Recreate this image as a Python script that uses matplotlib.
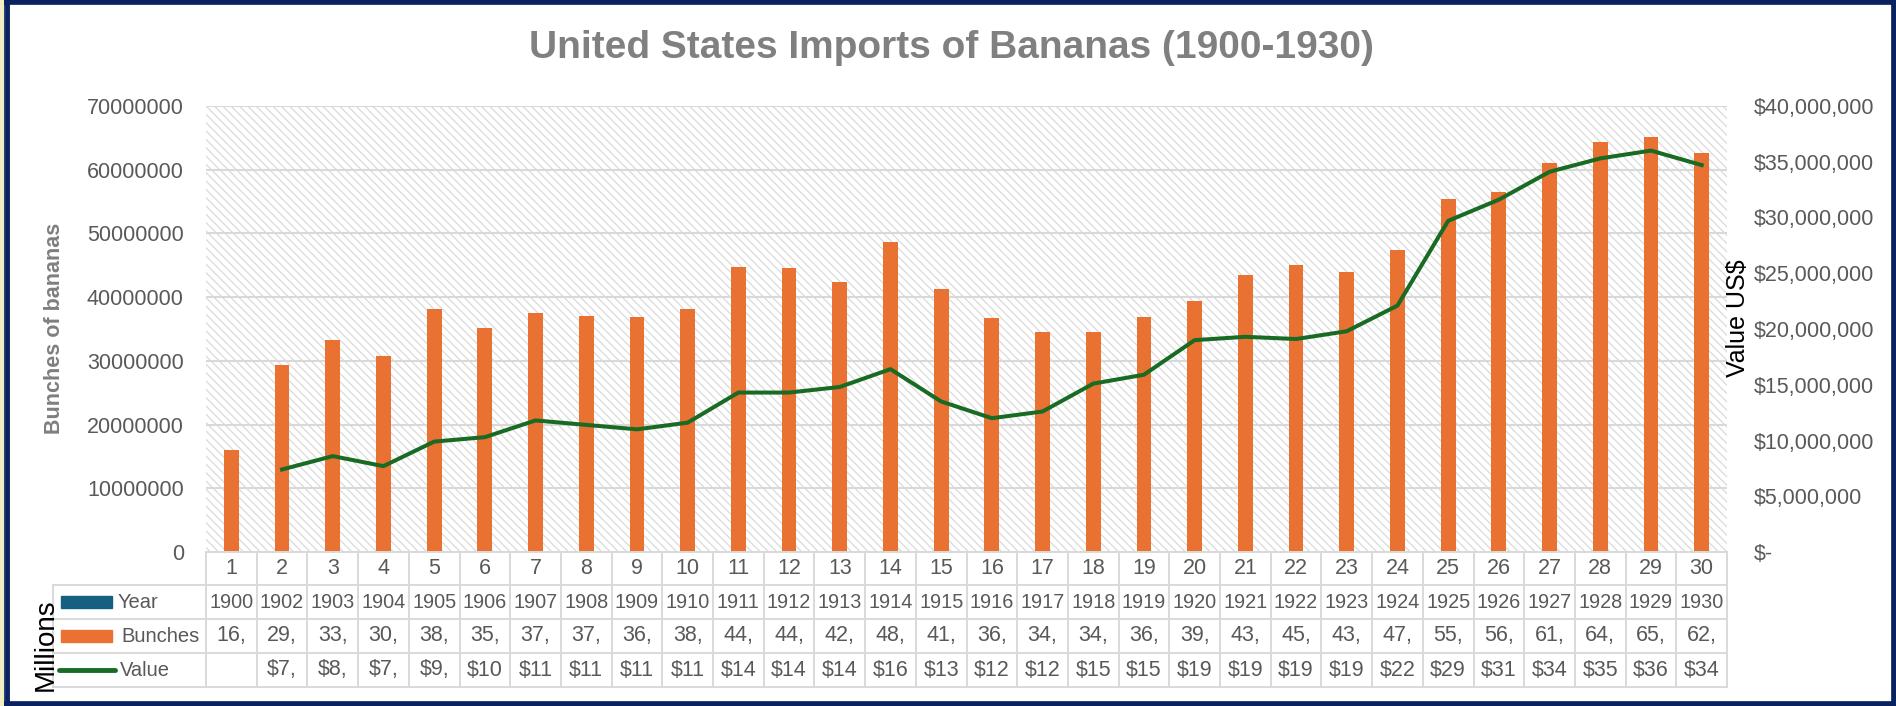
import numpy as np
import matplotlib
matplotlib.use("Agg")
from matplotlib import pyplot as plt
from matplotlib import transforms
from matplotlib.patches import Rectangle
from matplotlib.lines import Line2D
from matplotlib.ticker import FuncFormatter, MultipleLocator

# data
categories = list(range(1, 31))
years = [1900, 1902, 1903, 1904, 1905, 1906, 1907, 1908, 1909, 1910,
         1911, 1912, 1913, 1914, 1915, 1916, 1917, 1918, 1919, 1920,
         1921, 1922, 1923, 1924, 1925, 1926, 1927, 1928, 1929, 1930]
bunches = [16.0, 29.3, 33.2, 30.8, 38.2, 35.1, 37.5, 37.1, 36.9, 38.2,
           44.7, 44.6, 42.4, 48.7, 41.2, 36.8, 34.6, 34.5, 36.9, 39.4,
           43.4, 45.1, 43.9, 47.4, 55.4, 56.5, 61.0, 64.3, 65.1, 62.7]
bunches = [b * 1e6 for b in bunches]
value = [np.nan, 7.4, 8.6, 7.7, 9.9, 10.3, 11.8, 11.4, 11.0, 11.6,
         14.3, 14.3, 14.8, 16.4, 13.5, 12.0, 12.6, 15.1, 15.9, 19.0,
         19.3, 19.1, 19.8, 22.1, 29.7, 31.6, 34.1, 35.3, 36.0, 34.7]
value = [v * 1e6 for v in value]

ORANGE = "#E97132"
GREEN = "#196B24"
BLUE = "#156082"
GRID = "#D9D9D9"
TXT = "#595959"

W, H = 1896, 706
def fx(px):
    return px / W
def fy(py):
    return 1 - py / H

plt.rcParams["font.family"] = ["Liberation Sans", "DejaVu Sans"]
plt.rcParams["hatch.linewidth"] = 0.9
plt.rcParams["hatch.color"] = "#DADADA"
narrow = ["Liberation Sans Narrow", "Liberation Sans", "DejaVu Sans"]

fig = plt.figure(figsize=(W / 100, H / 100), dpi=100)
ax = fig.add_axes([fx(206), fy(552), fx(1727) - fx(206), fy(106) - fy(552)])

# hatched plot background
ax.add_patch(Rectangle((0, 0), 1, 1, transform=ax.transAxes, facecolor="white",
                       edgecolor="#DADADA", hatch="\\\\\\\\", lw=0, zorder=0.1))

x = np.array(categories)
ax.bar(x, bunches, width=0.29, color=ORANGE, zorder=2)
ax.set_xlim(0.5, 30.5)
ax.set_ylim(0, 70000000)
ax.yaxis.set_major_locator(MultipleLocator(10000000))
ax.yaxis.set_major_formatter(FuncFormatter(lambda v, p: f"{v:.0f}"))
ax.grid(axis="y", color=GRID, lw=1.5)
ax.set_axisbelow(True)
ax.set_xticks([])
ax.tick_params(axis="y", length=0, pad=16, labelsize=15.5, labelcolor=TXT)
for s in ax.spines.values():
    s.set_visible(False)

ax2 = ax.twinx()
ax2.plot(x, value, color=GREEN, lw=2.9, zorder=3)
ax2.set_ylim(0, 40000000)
ax2.yaxis.set_major_locator(MultipleLocator(5000000))
ax2.yaxis.set_major_formatter(FuncFormatter(lambda v, p: "$-" if v == 0 else f"${v:,.0f}"))
ax2.tick_params(axis="y", length=0, pad=19, labelsize=15.5, labelcolor=TXT)
for s in ax2.spines.values():
    s.set_visible(False)

# titles and axis labels
fig.text(0.502, fy(48), "United States Imports of Bananas (1900-1930)", ha="center", va="center",
         fontsize=28, fontweight="bold", color="#808080", family=narrow)
fig.text(fx(55), fy(328), "Bunches of bananas", rotation=90, ha="center", va="center",
         fontsize=15.5, fontweight="bold", color="#7F7F7F", family=narrow)
fig.text(fx(1738), fy(318), "Value US$", rotation=90, ha="center", va="center",
         fontsize=18, color="black")
fig.text(fx(46), fy(645), "Millions", rotation=90, ha="center", va="center",
         fontsize=20, color="black")

# data table under the chart
rows = [552, 585, 619, 653, 687]
tr = transforms.blended_transform_factory(ax.transData, fig.transFigure)
for xe in np.arange(0.5, 31, 1.0):
    fig.add_artist(Line2D([xe, xe], [fy(rows[0]), fy(rows[-1])], transform=tr, color=GRID, lw=1.4))
fig.add_artist(Line2D([fx(206), fx(1727)], [fy(rows[0])] * 2, transform=fig.transFigure, color=GRID, lw=1.4))
for r in rows[1:]:
    fig.add_artist(Line2D([fx(53), fx(1727)], [fy(r)] * 2, transform=fig.transFigure, color=GRID, lw=1.4))
fig.add_artist(Line2D([fx(53), fx(53)], [fy(rows[1]), fy(rows[-1])], transform=fig.transFigure, color=GRID, lw=1.4))

def mid(i):
    return fy((rows[i] + rows[i + 1]) / 2)

for c, yr, b, v in zip(categories, years, bunches, value):
    ax.text(c, mid(0), str(c), transform=tr, ha="center", va="center", fontsize=15.5, color=TXT)
    ax.text(c, mid(1), str(yr), transform=tr, ha="center", va="center", fontsize=14.3, color=TXT)
    ax.text(c, mid(2), f"{b:,.0f}"[:3], transform=tr, ha="center", va="center", fontsize=15.5, color=TXT)
    if not np.isnan(v):
        ax.text(c, mid(3), f"${v:,.0f}"[:3], transform=tr, ha="center", va="center", fontsize=15.5, color=TXT)

# legend keys inside the table
fig.add_artist(Rectangle((fx(61), mid(1) - 6 / H), fx(112) - fx(61), 12 / H, transform=fig.transFigure, color=BLUE))
fig.add_artist(Rectangle((fx(61), mid(2) - 6 / H), fx(112) - fx(61), 12 / H, transform=fig.transFigure, color=ORANGE))
fig.add_artist(Line2D([fx(59), fx(115)], [mid(3)] * 2, transform=fig.transFigure, color=GREEN, lw=3.5,
                      solid_capstyle="round"))
fig.text(fx(118), mid(1), "Year", ha="left", va="center", fontsize=14.5, color=TXT)
fig.text(fx(121), mid(2), "Bunches", ha="left", va="center", fontsize=14.5, color=TXT)
fig.text(fx(120), mid(3), "Value", ha="left", va="center", fontsize=14.5, color=TXT)

# outer frame
fig.add_artist(Rectangle((0, 0), 1, 1, transform=fig.transFigure, fill=False, edgecolor="#0B2261", lw=7))
fig.add_artist(Rectangle((0, 0), fx(4), 1, transform=fig.transFigure, color="#F2EEC4", lw=0))
fig.add_artist(Line2D([fx(6.5), fx(6.5)], [0, 1], transform=fig.transFigure, color="#0B2261", lw=3.5))

fig.savefig("out.png", dpi=100)
